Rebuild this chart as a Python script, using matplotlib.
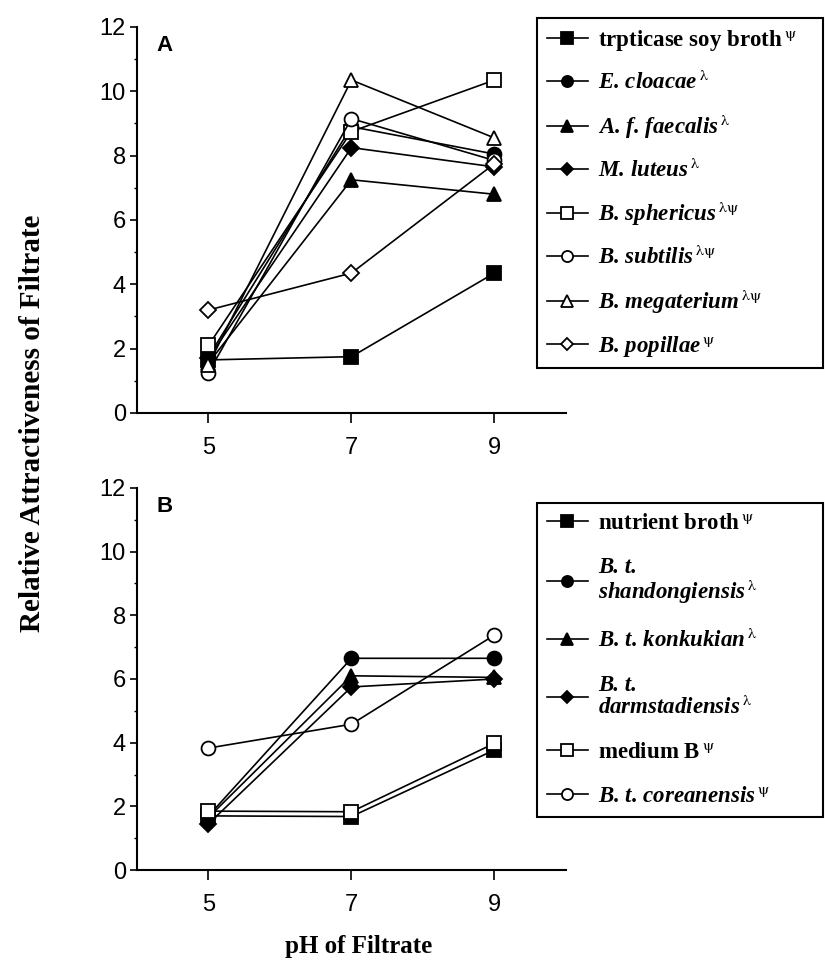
import matplotlib.pyplot as plt
from matplotlib.ticker import MultipleLocator

plt.rcParams['mathtext.fontset'] = 'stix'

ph = [5, 7, 9]

# panel A
soy_broth = [1.65, 1.75, 4.35]
e_cloacae = [1.75, 8.9, 8.05]
a_faecalis = [1.55, 7.25, 6.8]
m_luteus = [1.7, 8.25, 7.65]
b_sphericus = [2.1, 8.75, 10.35]
b_subtilis = [1.25, 9.15, 7.85]
b_megaterium = [1.5, 10.35, 8.55]
b_popillae = [3.2, 4.35, 7.75]

# panel B
nutrient_broth = [1.7, 1.68, 3.77]
bt_shandong = [1.7, 6.65, 6.65]
bt_konkukian = [1.65, 6.1, 6.05]
bt_darmstad = [1.45, 5.75, 6.0]
medium_b = [1.85, 1.83, 3.98]
bt_corean = [3.83, 4.58, 7.38]

PSI = r'$\,^{\mathrm{ψ}}$'
LAM = r'$\,^{\mathrm{λ}}$'
LAMPSI = r'$\,^{\mathrm{λψ}}$'

series_a = [
    (soy_broth, 's', True, 'trpticase soy broth' + PSI, 'normal'),
    (e_cloacae, 'o', True, 'E. cloacae' + LAM, 'italic'),
    (a_faecalis, '^', True, 'A. f. faecalis' + LAM, 'italic'),
    (m_luteus, 'D', True, 'M. luteus' + LAM, 'italic'),
    (b_sphericus, 's', False, 'B. sphericus' + LAMPSI, 'italic'),
    (b_subtilis, 'o', False, 'B. subtilis' + LAMPSI, 'italic'),
    (b_megaterium, '^', False, 'B. megaterium' + LAMPSI, 'italic'),
    (b_popillae, 'D', False, 'B. popillae' + PSI, 'italic'),
]
series_b = [
    (nutrient_broth, 's', True, 'nutrient broth' + PSI, 'normal'),
    (bt_shandong, 'o', True, 'B. t.\nshandongiensis' + LAM, 'italic'),
    (bt_konkukian, '^', True, 'B. t. konkukian' + LAM, 'italic'),
    (bt_darmstad, 'D', True, 'B. t.\ndarmstadiensis' + LAM, 'italic'),
    (medium_b, 's', False, 'medium B' + PSI, 'normal'),
    (bt_corean, 'o', False, 'B. t. coreanensis' + PSI, 'italic'),
]

fig = plt.figure(figsize=(8.25, 9.64), dpi=100)
ax_a = fig.add_axes([0.166, 0.5716, 0.52, 0.4004])
ax_b = fig.add_axes([0.166, 0.0975, 0.52, 0.3963])


def draw_panel(ax, series, letter, legend_top, legend_spacing):
    handles = []
    for values, marker, filled, label, style in series:
        ms = 8 if marker == 'D' else 10
        line, = ax.plot(ph, values, color='black', lw=1.2, marker=marker, ms=ms,
                        mfc='black' if filled else 'white', mec='black', mew=1.3,
                        label=label)
        handles.append(line)
    ax.set_xlim(4, 10)
    ax.set_ylim(0, 12)
    ax.set_xticks(ph)
    ax.set_yticks(range(0, 13, 2))
    ax.yaxis.set_minor_locator(MultipleLocator(1))
    for s in ['top', 'right']:
        ax.spines[s].set_visible(False)
    for s in ['left', 'bottom']:
        ax.spines[s].set_linewidth(1.5)
    ax.tick_params(axis='x', length=7, width=1.2, pad=10, labelsize=17)
    ax.tick_params(axis='y', which='major', length=5, width=1.2, pad=3, labelsize=17)
    ax.tick_params(axis='y', which='minor', length=2.5, width=1)
    for t in ax.get_xticklabels() + ax.get_yticklabels():
        t.set_family('Liberation Sans')
    ax.text(0.045, 0.978, letter, transform=ax.transAxes, ha='left', va='top',
            fontsize=16, fontweight='bold', family='Liberation Sans')

    leg = fig.legend(handles=handles, loc='upper left',
                     bbox_to_anchor=(0.651, legend_top - 0.3, 0.346, 0.3), mode='expand',
                     frameon=True, fancybox=False, edgecolor='black', framealpha=1,
                     prop={'family': 'Liberation Serif', 'weight': 'bold', 'size': 16.5},
                     handlelength=1.8, handletextpad=0.45, borderpad=0.42,
                     labelspacing=legend_spacing, markerscale=0.8, borderaxespad=0)
    leg.get_frame().set_linewidth(1.5)
    for text, (_, _, _, _, style) in zip(leg.get_texts(), series):
        text.set_style(style)
        text.set_linespacing(1.0)


draw_panel(ax_a, series_a, 'A', 0.981, 0.79)
draw_panel(ax_b, series_b, 'B', 0.478, 1.0)

fig.text(0.04, 0.561, 'Relative Attractiveness of Filtrate', rotation=90,
         ha='center', va='center', fontsize=21, fontweight='bold', family='Liberation Serif')
fig.text(0.435, 0.018, 'pH of Filtrate', ha='center', va='center',
         fontsize=18, fontweight='bold', family='Liberation Serif')

fig.savefig('out.png', dpi=100)
